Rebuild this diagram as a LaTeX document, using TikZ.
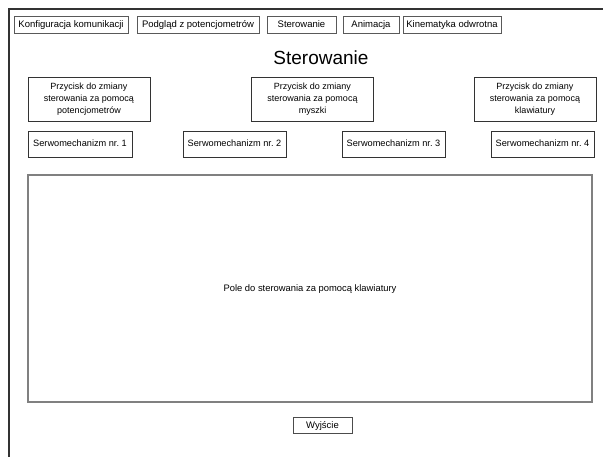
\documentclass[tikz,border=0pt]{standalone}
\usepackage{fontspec}
\setmainfont{Liberation Sans}
\frenchspacing
\begin{document}
\begin{tikzpicture}[x=1pt,y=-1pt,
  tab/.style={draw=black!65,line width=0.8pt,fill=white,inner sep=0pt,minimum height=17pt,text height=7pt,text depth=1pt,font=\fontsize{9.5}{10}\selectfont\frenchspacing},
  btn/.style={draw=black!80,line width=0.8pt,inner sep=0pt,align=center,minimum height=44pt,minimum width=122pt,font=\fontsize{9}{11.8}\selectfont},
  servo/.style={draw=black!80,line width=0.8pt,inner sep=0pt,minimum height=26pt,minimum width=103pt,text height=7pt,text depth=1pt,font=\fontsize{9.2}{10}\selectfont\frenchspacing},
  field/.style={draw=black!50,line width=1.3pt,inner sep=0pt,minimum width=564pt,minimum height=227pt,text height=7pt,text depth=1pt,font=\fontsize{9.4}{10}\selectfont},
  frameline/.style={draw=black!80,line width=1.4pt}]
\useasboundingbox (0,0) rectangle (603,457);
% partial outer frame
\coordinate (ftr) at (603,9);
\coordinate (ftl) at (9,9);
\coordinate (fbl) at (9,457);
\draw[frameline] (ftr) -- (ftl) -- (fbl);
% tabs
\node[tab,minimum width=114pt] (t1) at (71,24.5) {Konfiguracja komunikacji};
\node[tab,minimum width=122pt] (t2) at (198,24.5) {Podgląd z potencjometrów};
\node[tab,minimum width=69pt] (t3) at (301.5,24.5) {Sterowanie};
\node[tab,minimum width=56pt] (t4) at (371,24.5) {Animacja};
\node[tab,minimum width=98pt] (t5) at (452,24.5) {Kinematyka odwrotna};
% title
\node[font=\fontsize{19}{22}\selectfont,inner sep=0pt] (title) at (321,58) {Sterowanie};
% mode buttons
\node[btn] (bA) at (89,99) {Przycisk do zmiany\\sterowania za pomocą\\potencjometrów};
\node[btn] (bB) at (312.5,99) {Przycisk do zmiany\\sterowania za pomocą\\myszki};
\node[btn] (bC) at (535,99) {Przycisk do zmiany\\sterowania za pomocą\\klawiatury};
% servos
\node[servo,minimum width=104pt] (s1) at (80,144) {Serwomechanizm nr. 1};
\node[servo] (s2) at (234.5,144) {Serwomechanizm nr. 2};
\node[servo] (s3) at (393.5,144) {Serwomechanizm nr. 3};
\node[servo] (s4) at (542.5,144) {Serwomechanizm nr. 4};
% field
\node[field] (pole) at (310,288.5) {Pole do sterowania za pomocą klawiatury};
% exit
\node[tab,draw=black!70,minimum width=59pt,minimum height=16pt] (exit) at (322.5,425) {Wyjście};
\end{tikzpicture}
\end{document}
